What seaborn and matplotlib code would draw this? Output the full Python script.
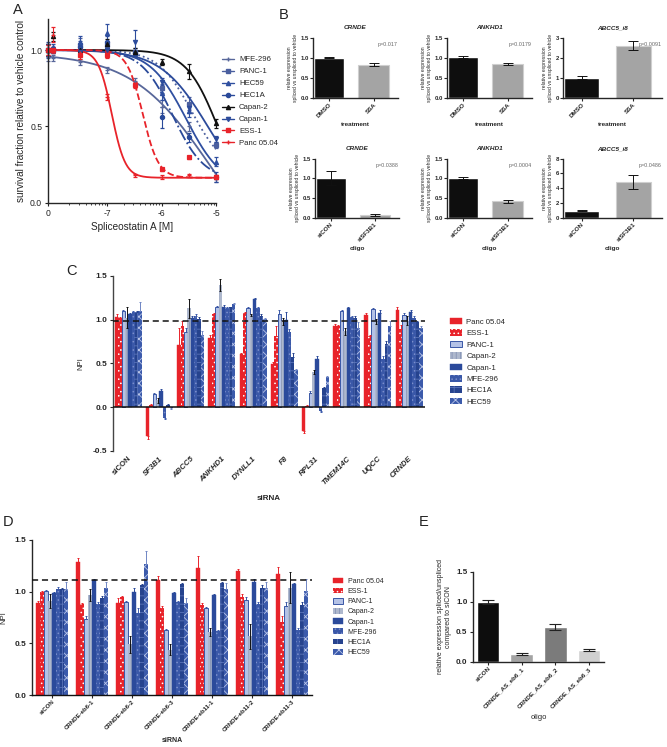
import numpy as np
import pandas as pd
import matplotlib
matplotlib.use("Agg")
import matplotlib.pyplot as plt
import seaborn as sns
from matplotlib.patches import Patch
from matplotlib.lines import Line2D

sns.set_theme(style="ticks")
plt.rcParams["font.family"] = ["Liberation Sans", "DejaVu Sans"]
plt.rcParams["hatch.linewidth"] = 0.6
plt.rcParams["axes.linewidth"] = 1.0
plt.rcParams["xtick.major.width"] = 0.8
plt.rcParams["ytick.major.width"] = 0.8
plt.rcParams["xtick.major.size"] = 2.5
plt.rcParams["ytick.major.size"] = 2.5

# ---------------- data ----------------
# Panel A: dose response (log10 M); first point = vehicle control (plotted at "0")
a_lines = ["MFE-296", "PANC-1", "HEC59", "HEC1A", "Capan-2", "Capan-1", "ESS-1", "Panc 05.04"]
a_conc = [-8.1, -8.0, -7.5, -7.0, -6.5, -6.0, -5.5, -5.0]
a_mfe296 = [0.955, 0.95, 0.92, 0.87, 0.80, 0.63, 0.50, 0.16]
a_panc1 = [1.00, 1.00, 1.03, 1.03, 0.99, 0.75, 0.65, 0.38]
a_hec59 = [1.00, 1.02, 1.05, 1.11, 0.98, 0.72, 0.60, 0.27]
a_hec1a = [1.00, 1.00, 1.02, 1.05, 0.98, 0.56, 0.43, 0.17]
a_capan2 = [1.00, 1.09, 1.00, 1.04, 0.99, 0.92, 0.86, 0.52]
a_capan1 = [1.00, 1.00, 0.99, 1.00, 1.05, 0.79, 0.62, 0.42]
a_ess1 = [1.00, 1.00, 0.97, 0.97, 0.77, 0.22, 0.30, 0.17]
a_panc0504 = [1.00, 1.10, 0.98, 0.69, 0.18, 0.17, 0.18, 0.17]
a_err_mfe296 = [0.03, 0.02, 0.02, 0.02, 0.02, 0.04, 0.03, 0.02]
a_err_panc1 = [0.04, 0.02, 0.05, 0.02, 0.02, 0.03, 0.04, 0.02]
a_err_hec59 = [0.05, 0.02, 0.04, 0.06, 0.02, 0.05, 0.04, 0.03]
a_err_hec1a = [0.04, 0.02, 0.04, 0.04, 0.02, 0.07, 0.03, 0.03]
a_err_capan2 = [0.04, 0.03, 0.03, 0.03, 0.02, 0.02, 0.05, 0.03]
a_err_capan1 = [0.04, 0.02, 0.02, 0.02, 0.08, 0.03, 0.03, 0.02]
a_err_ess1 = [0.03, 0.02, 0.03, 0.02, 0.02, 0.01, 0.01, 0.01]
a_err_panc0504 = [0.03, 0.05, 0.02, 0.02, 0.01, 0.01, 0.01, 0.01]
# fitted 4-parameter logistic curves: top, bottom, log IC50, hill slope
a_fit_top = [0.98, 1.0, 1.0, 1.0, 1.0, 1.0, 1.0, 1.0]
a_fit_bottom = [-0.5, 0.2, 0.1, 0.15, 0.0, 0.0, 0.165, 0.165]
a_fit_ic50 = [-5.1, -5.45, -5.55, -5.8, -4.97, -5.15, -6.35, -6.92]
a_fit_hill = [0.6, 1.4, 1.3, 1.5, 1.5, 1.0, 3.0, 3.5]
a_xticks = [-8.1, -7, -6, -5]
a_xticklabels = ["0", "-7", "-6", "-5"]

# Panel B
b_treat = ["DMSO", "SSA"]
b_oligo = ["siCON", "siSF3B1"]
b_crnde_ssa = [1.0, 0.83]
b_crnde_ssa_err = [0.01, 0.03]
b_ankhd1_ssa = [1.01, 0.85]
b_ankhd1_ssa_err = [0.02, 0.03]
b_abcc5_ssa = [1.0, 2.6]
b_abcc5_ssa_err = [0.08, 0.22]
b_crnde_si = [1.0, 0.07]
b_crnde_si_err = [0.18, 0.03]
b_ankhd1_si = [1.01, 0.42]
b_ankhd1_si_err = [0.02, 0.04]
b_abcc5_si = [1.0, 4.85]
b_abcc5_si_err = [0.10, 0.90]
b_pvals = ["p=0.017", "p=0.0179", "p=0.0091", "p=0.0388", "p=0.0004", "p=0.0486"]

# Panel C
cell_lines = ["Panc 05.04", "ESS-1", "PANC-1", "Capan-2", "Capan-1", "MFE-296", "HEC1A", "HEC59"]
c_genes = ["siCON", "SF3B1", "ABCC5", "ANKHD1", "DYNLL1", "F8", "RPL31", "TMEM14C", "UQCC", "CRNDE"]
c_panc0504 = [1.03, -0.33, 0.71, 0.79, 0.61, 0.49, -0.27, 0.93, 1.05, 1.11]
c_ess1 = [1.02, 0.03, 0.93, 1.06, 1.08, 0.81, 0.01, 0.93, 0.81, 0.89]
c_panc1 = [1.10, 0.15, 0.86, 1.15, 1.13, 1.07, 0.16, 1.10, 1.12, 1.05]
c_capan2 = [1.02, 0.08, 1.13, 1.40, 1.05, 0.98, 0.40, 0.87, 0.98, 0.99]
c_capan1 = [1.06, 0.18, 1.02, 1.15, 1.24, 1.00, 0.55, 1.13, 1.08, 1.09]
c_mfe296 = [1.09, -0.12, 1.04, 1.13, 1.13, 0.86, -0.04, 1.03, 0.55, 1.02]
c_hec1a = [1.09, 0.03, 1.01, 1.14, 1.04, 0.57, 0.22, 1.02, 0.72, 0.97]
c_hec59 = [1.10, -0.01, 0.82, 1.18, 1.01, 0.43, 0.35, 0.91, 0.93, 0.90]
c_err_panc0504 = [0.03, 0.03, 0.19, 0.04, 0.01, 0.03, 0.03, 0.02, 0.03, 0.03]
c_err_ess1 = [0.01, 0.01, 0.05, 0.02, 0.01, 0.12, 0.01, 0.01, 0.02, 0.05]
c_err_panc1 = [0.01, 0.01, 0.04, 0.01, 0.01, 0.04, 0.02, 0.01, 0.01, 0.03]
c_err_capan2 = [0.12, 0.03, 0.11, 0.07, 0.01, 0.04, 0.02, 0.04, 0.03, 0.05]
c_err_capan1 = [0.02, 0.03, 0.02, 0.02, 0.01, 0.09, 0.03, 0.02, 0.03, 0.02]
c_err_mfe296 = [0.01, 0.02, 0.02, 0.02, 0.02, 0.03, 0.02, 0.01, 0.03, 0.02]
c_err_hec1a = [0.01, 0.01, 0.02, 0.01, 0.02, 0.05, 0.01, 0.02, 0.04, 0.02]
c_err_hec59 = [0.10, 0.01, 0.05, 0.01, 0.01, 0.01, 0.01, 0.06, 0.05, 0.03]
c_cutoff = 0.985

# Panel D
d_sirna = ["siCON", "CRNDE-eb6-1", "CRNDE-eb6-2", "CRNDE-eb6-3", "CRNDE-eb11-1", "CRNDE-eb11-2", "CRNDE-eb11-3"]
d_panc0504 = [0.89, 1.29, 0.89, 1.11, 1.23, 1.20, 1.17]
d_ess1 = [1.00, 0.88, 0.95, 0.84, 0.87, 0.95, 0.71]
d_panc1 = [1.01, 0.74, 0.90, 0.63, 0.84, 0.92, 0.86]
d_capan2 = [0.91, 0.97, 0.49, 0.44, 0.61, 0.57, 1.04]
d_capan1 = [0.99, 1.11, 1.00, 0.99, 0.97, 1.09, 1.07]
d_mfe296 = [1.03, 0.88, 0.79, 0.90, 0.62, 0.88, 0.63]
d_hec1a = [1.03, 0.94, 1.06, 1.07, 1.08, 1.04, 0.87]
d_hec59 = [1.03, 1.04, 1.27, 0.89, 1.03, 1.04, 1.01]
d_err_panc0504 = [0.02, 0.04, 0.05, 0.04, 0.12, 0.02, 0.07]
d_err_ess1 = [0.01, 0.01, 0.01, 0.02, 0.02, 0.03, 0.05]
d_err_panc1 = [0.01, 0.02, 0.01, 0.01, 0.01, 0.03, 0.04]
d_err_capan2 = [0.07, 0.06, 0.08, 0.05, 0.04, 0.12, 0.15]
d_err_capan1 = [0.01, 0.01, 0.04, 0.01, 0.01, 0.03, 0.01]
d_err_mfe296 = [0.02, 0.02, 0.05, 0.01, 0.01, 0.02, 0.02]
d_err_hec1a = [0.01, 0.02, 0.01, 0.01, 0.01, 0.02, 0.03]
d_err_hec59 = [0.06, 0.05, 0.12, 0.05, 0.05, 0.05, 0.11]
d_cutoff = 1.113

# Panel E
e_oligo = ["siCON", "CRNDE_AS_eb6_1", "CRNDE_AS_eb6_2", "CRNDE_AS_eb6_3"]
e_vals = [1.0, 0.14, 0.58, 0.20]
e_errs = [0.03, 0.015, 0.05, 0.02]

# ---------------- styles ----------------
RED = "#e8232a"
bar_style = {
    "Panc 05.04": dict(fc=RED, ec=RED, hatch=None, lw=0.3, errc=RED),
    "ESS-1": dict(fc=RED, ec="white", hatch="....", lw=0, errc=RED),
    "PANC-1": dict(fc="#b4c2e6", ec="#3a57a6", hatch=None, lw=0.7, errc="#3a57a6"),
    "Capan-2": dict(fc="#aeb8cd", ec="#8593b5", hatch="||||", lw=0, errc="#111111"),
    "Capan-1": dict(fc="#2b4a9b", ec="#2b4a9b", hatch=None, lw=0.3, errc="#2b4a9b"),
    "MFE-296": dict(fc="#3a58a8", ec="#7a8ecb", hatch="....", lw=0, errc="#3d5bab"),
    "HEC1A": dict(fc="#26438e", ec="#5a74b8", hatch="++", lw=0, errc="#26438e"),
    "HEC59": dict(fc="#3b5aab", ec="#b9c5e8", hatch="xxx", lw=0, errc="#6f86c4"),
}

W, H = 667, 747
fig = plt.figure(figsize=(W / 100, H / 100), dpi=100)
fig.patch.set_facecolor("white")


def add_ax(x0, y0, x1, y1):
    return fig.add_axes([x0 / W, 1 - y1 / H, (x1 - x0) / W, (y1 - y0) / H])


def letter(x, y, s):
    fig.text(x / W, 1 - y / H, s, fontsize=10.5, ha="left", va="center", color="#222222")


# ---------------- Panel A ----------------
axA = add_ax(47.7, 19.4, 216, 203)
a_vals = [a_mfe296, a_panc1, a_hec59, a_hec1a, a_capan2, a_capan1, a_ess1, a_panc0504]
a_errs = [a_err_mfe296, a_err_panc1, a_err_hec59, a_err_hec1a, a_err_capan2, a_err_capan1,
          a_err_ess1, a_err_panc0504]
a_colors = ["#58679a", "#4b5f9f", "#2f4fa0", "#2a4a9a", "#111111", "#2c4b9b", RED, RED]
a_markers = ["+", "s", "^", "o", "^", "v", "s", "+"]
a_ls = ["-", ":", "-", "-.", "-", "-", "--", "-"]
xs_fit = np.linspace(-8.1, -5.0, 300)
handles = []
for i, name in enumerate(a_lines):
    top, bot, ic, hl = a_fit_top[i], a_fit_bottom[i], a_fit_ic50[i], a_fit_hill[i]
    yfit = bot + (top - bot) / (1 + 10 ** ((xs_fit - ic) * hl))
    sns.lineplot(x=xs_fit, y=yfit, ax=axA, color=a_colors[i], lw=1.3, linestyle=a_ls[i])
    axA.errorbar(a_conc, a_vals[i], yerr=a_errs[i], fmt=a_markers[i], color=a_colors[i],
                 ms=3, mew=0.9, elinewidth=0.8, capsize=1.5, capthick=0.8, clip_on=False)
    handles.append(Line2D([], [], color=a_colors[i], marker=a_markers[i], ms=3, lw=1.0,
                          linestyle="-"))
axA.set_xlim(-8.1, -5.0)
axA.set_ylim(0, 1.2)
axA.set_yticks([0, 0.5, 1.0])
axA.set_yticklabels(["0.0", "0.5", "1.0"])
axA.set_xticks(a_xticks)
axA.set_xticklabels(a_xticklabels)
minor = []
for dec in [-8, -7, -6]:
    for m in range(2, 10):
        minor.append(dec + np.log10(m))
axA.set_xticks(minor, minor=True)
axA.tick_params(axis="x", which="minor", length=1.5, width=0.6)
axA.tick_params(labelsize=6.2, pad=1.5, colors="#222222")
axA.set_ylabel("survival fraction relative to vehicle control", fontsize=7.2, labelpad=3)
axA.set_xlabel("Spliceostatin A [M]", fontsize=7.2, labelpad=3)
sns.despine(ax=axA)
fig.legend(handles, a_lines, loc="upper left", bbox_to_anchor=(222 / W, 1 - 56 / H),
           frameon=False, fontsize=5.6, handlelength=1.6, handletextpad=0.6,
           labelspacing=0.58, borderpad=0, borderaxespad=0)
letter(13, 10, "A")

# ---------------- Panel B ----------------
letter(279, 15, "B")


def bar_panel(ax, cats, vals, errs, ylim, yticks, ytl, title, pval, xlabel):
    sns.barplot(x=cats, y=vals, hue=cats, palette=["#0e0e0e", "#a4a4a4"], legend=False,
                width=0.68, saturation=1, errorbar=None, ax=ax)
    ax.patches[1].set_edgecolor("#cfcfcf")
    ax.patches[1].set_linewidth(0.8)
    xs = [p.get_x() + p.get_width() / 2 for p in ax.patches]
    ax.errorbar(xs, vals, yerr=errs, fmt="none", ecolor="#111111", elinewidth=0.7,
                capsize=3.5, capthick=0.7)
    ax.set_ylim(*ylim)
    ax.set_yticks(yticks)
    ax.set_yticklabels(ytl)
    ax.set_xlim(-0.36, 1.55)
    ax.tick_params(labelsize=4.3, pad=1, length=2)
    for t in ax.get_yticklabels():
        t.set_fontweight("bold")
    ax.set_xticks([0, 1])
    ax.set_xticklabels(cats, rotation=45, ha="right", rotation_mode="anchor",
                       fontsize=4.5, fontweight="bold")
    ax.set_title(title, fontsize=4.6, fontweight="bold", style="italic", pad=6)
    ax.text(1.0, 0.88, pval, transform=ax.transAxes, ha="right", va="center",
            fontsize=3.9, color="#666666")
    ax.set_xlabel(xlabel, fontsize=4.6, fontweight="bold", labelpad=2)
    ax.set_ylabel("relative expression\nspliced vs unspliced to vehicle", fontsize=3.6,
                  labelpad=2, linespacing=1.1)
    sns.despine(ax=ax)


b1 = add_ax(313, 37.5, 398, 98)
bar_panel(b1, b_treat, b_crnde_ssa, b_crnde_ssa_err, (0, 1.5), [0, 0.5, 1.0, 1.5],
          ["0.0", "0.5", "1.0", "1.5"], "CRNDE", b_pvals[0], "treatment")
b2 = add_ax(447, 37.5, 532, 98)
bar_panel(b2, b_treat, b_ankhd1_ssa, b_ankhd1_ssa_err, (0, 1.5), [0, 0.5, 1.0, 1.5],
          ["0.0", "0.5", "1.0", "1.5"], "ANKHD1", b_pvals[1], "treatment")
b3 = add_ax(563, 37.5, 662, 98)
bar_panel(b3, b_treat, b_abcc5_ssa, b_abcc5_ssa_err, (0, 3), [0, 1, 2, 3],
          ["0", "1", "2", "3"], "ABCC5_i8", b_pvals[2], "treatment")
b4 = add_ax(315, 158.5, 399, 218)
bar_panel(b4, b_oligo, b_crnde_si, b_crnde_si_err, (0, 1.5), [0, 0.5, 1.0, 1.5],
          ["0.0", "0.5", "1.0", "1.5"], "CRNDE", b_pvals[3], "oligo")
b5 = add_ax(447, 158.5, 532, 218)
bar_panel(b5, b_oligo, b_ankhd1_si, b_ankhd1_si_err, (0, 1.5), [0, 0.5, 1.0, 1.5],
          ["0.0", "0.5", "1.0", "1.5"], "ANKHD1", b_pvals[4], "oligo")
b6 = add_ax(563, 158.5, 662, 218)
bar_panel(b6, b_oligo, b_abcc5_si, b_abcc5_si_err, (0, 8), [0, 2, 4, 6, 8],
          ["0", "2", "4", "6", "8"], "ABCC5_i8", b_pvals[5], "oligo")


# ---------------- grouped bar helper ----------------
def grouped(ax, cats, series, errs, width):
    rows = []
    for name, vals in zip(cell_lines, series):
        for c, v in zip(cats, vals):
            rows.append(dict(cat=c, line=name, val=v))
    df = pd.DataFrame(rows)
    sns.barplot(data=df, x="cat", y="val", hue="line", order=cats, hue_order=cell_lines,
                palette=[bar_style[n]["fc"] for n in cell_lines], width=width,
                saturation=1, errorbar=None, legend=False, ax=ax)
    conts = list(ax.containers)
    for cont, name, vals, ee in zip(conts, cell_lines, series, errs):
        st = bar_style[name]
        xs = []
        for p in cont.patches:
            p.set_facecolor(st["fc"])
            p.set_edgecolor(st["ec"])
            p.set_linewidth(st["lw"])
            if st["hatch"]:
                p.set_hatch(st["hatch"])
            xs.append(p.get_x() + p.get_width() / 2)
        v = np.array(vals)
        e = np.array(ee)
        if name == "Capan-2":
            lo, hi = e, e
        else:
            lo = np.where(v < 0, e, 0)
            hi = np.where(v >= 0, e, 0)
        ax.errorbar(xs, v, yerr=[lo, hi], fmt="none", ecolor=st["errc"], elinewidth=0.7,
                    capsize=1.0, capthick=0.7)


def legend_handles():
    hs = []
    for n in cell_lines:
        st = bar_style[n]
        hs.append(Patch(facecolor=st["fc"], edgecolor=st["ec"], hatch=st["hatch"],
                        linewidth=max(st["lw"], 0.0)))
    return hs


# ---------------- Panel C ----------------
axC = add_ax(113, 276, 425, 451)
c_series = [c_panc0504, c_ess1, c_panc1, c_capan2, c_capan1, c_mfe296, c_hec1a, c_hec59]
c_errs = [c_err_panc0504, c_err_ess1, c_err_panc1, c_err_capan2, c_err_capan1,
          c_err_mfe296, c_err_hec1a, c_err_hec59]
grouped(axC, c_genes, c_series, c_errs, 0.86)
axC.set_xlim(-0.49, 9.51)
axC.set_ylim(-0.5, 1.5)
axC.set_yticks([-0.5, 0, 0.5, 1.0, 1.5])
axC.set_yticklabels(["-0.5", "0.0", "0.5", "1.0", "1.5"])
axC.axhline(0, color="#111111", lw=1.1, zorder=3)
axC.axhline(c_cutoff, color="#111111", lw=1.1, ls=(0, (4, 2.5)), zorder=4)
sns.despine(ax=axC)
axC.spines["bottom"].set_visible(False)
axC.spines["left"].set_color("#444444")
axC.tick_params(axis="x", length=0, pad=3)
axC.tick_params(axis="y", labelsize=6, pad=1.5)
for t in axC.get_yticklabels():
    t.set_fontweight("bold")
axC.set_xticks(range(len(c_genes)))
axC.set_xticklabels(c_genes, rotation=45, ha="right", rotation_mode="anchor", fontsize=5.6,
                    fontweight="bold")
for t in axC.get_xticklabels()[1:]:
    t.set_fontstyle("italic")
axC.set_xlabel("siRNA", fontsize=5.8, fontweight="bold", labelpad=6)
axC.set_ylabel("NPI", fontsize=5.5, labelpad=6)
fig.legend(legend_handles(), cell_lines, loc="upper left", bbox_to_anchor=(450 / W, 1 - 318 / H),
           frameon=False, fontsize=5.6, handlelength=1.5, handleheight=0.9,
           handletextpad=0.6, labelspacing=0.45, borderpad=0, borderaxespad=0)
letter(66, 271, "C")

# ---------------- Panel D ----------------
axD = add_ax(32, 540, 312, 695)
d_series = [d_panc0504, d_ess1, d_panc1, d_capan2, d_capan1, d_mfe296, d_hec1a, d_hec59]
d_errs = [d_err_panc0504, d_err_ess1, d_err_panc1, d_err_capan2, d_err_capan1,
          d_err_mfe296, d_err_hec1a, d_err_hec59]
grouped(axD, d_sirna, d_series, d_errs, 0.82)
axD.set_xlim(-0.5, 6.5)
axD.set_ylim(0, 1.5)
axD.set_yticks([0, 0.5, 1.0, 1.5])
axD.set_yticklabels(["0.0", "0.5", "1.0", "1.5"])
axD.axhline(d_cutoff, color="#111111", lw=1.1, ls=(0, (4, 2.5)), zorder=4)
sns.despine(ax=axD)
axD.spines["bottom"].set_color("#111111")
axD.tick_params(axis="y", labelsize=6, pad=1.5)
axD.tick_params(axis="x", length=2, pad=1)
for t in axD.get_yticklabels():
    t.set_fontweight("bold")
axD.set_xticks(range(len(d_sirna)))
axD.set_xticklabels(d_sirna, rotation=45, ha="right", rotation_mode="anchor", fontsize=4.4,
                    fontweight="bold")
axD.set_xlabel("siRNA", fontsize=5.0, fontweight="bold", labelpad=3)
axD.set_ylabel("NPI", fontsize=5.5, labelpad=5)
fig.legend(legend_handles(), cell_lines, loc="upper left", bbox_to_anchor=(333 / W, 1 - 577.5 / H),
           frameon=False, fontsize=5.0, handlelength=1.5, handleheight=0.9,
           handletextpad=0.6, labelspacing=0.42, borderpad=0, borderaxespad=0)
letter(3, 522, "D")

# ---------------- Panel E ----------------
axE = add_ax(473, 572, 604, 662)
sns.barplot(x=e_oligo, y=e_vals, hue=e_oligo, palette=["#0d0d0d", "#a3a3a3", "#7b7b7b", "#d0d0d0"],
            legend=False, width=0.67, saturation=1, errorbar=None, ax=axE)
xsE = [p.get_x() + p.get_width() / 2 for p in axE.patches]
axE.errorbar(xsE, e_vals, yerr=e_errs, fmt="none", ecolor="#222222", elinewidth=0.8,
             capsize=4, capthick=0.8)
axE.set_xlim(-0.45, 3.45)
axE.set_ylim(0, 1.5)
axE.set_yticks([0, 0.5, 1.0, 1.5])
axE.set_yticklabels(["0.0", "0.5", "1.0", "1.5"])
sns.despine(ax=axE)
axE.tick_params(axis="y", labelsize=5.8, pad=1.5)
axE.tick_params(axis="x", length=2, pad=1)
for t in axE.get_yticklabels():
    t.set_fontweight("bold")
axE.set_xticks(range(4))
axE.set_xticklabels(e_oligo, rotation=45, ha="right", rotation_mode="anchor", fontsize=4.5,
                    fontweight="bold")
axE.set_xlabel("oligo", fontsize=5.5, labelpad=4)
axE.set_ylabel("relative expression spliced/unspliced\ncompared to siCON", fontsize=5.0,
               labelpad=3, linespacing=1.1)
letter(419, 522, "E")

fig.savefig("out.png", dpi=100, facecolor="white")
